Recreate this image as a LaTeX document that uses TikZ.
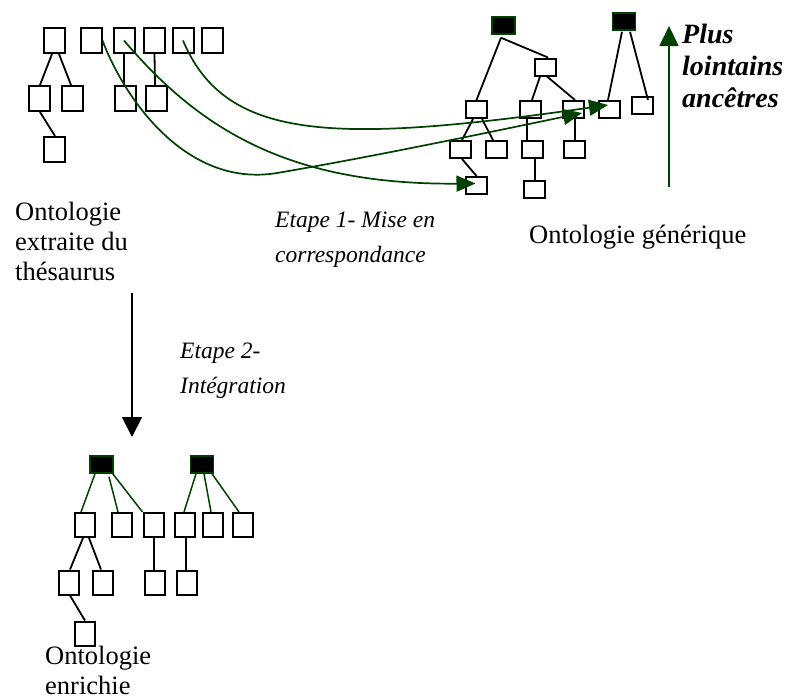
\documentclass[tikz,border=0pt]{standalone}
\usepackage{fontspec}
\setmainfont{Liberation Serif}
\usetikzlibrary{arrows.meta,calc}
\definecolor{dgreen}{RGB}{0,64,0}
\begin{document}
\begin{tikzpicture}[x=1pt,y=-1pt,
  tbox/.style={draw=black,line width=2pt,fill=white,inner sep=0pt,minimum width=21pt,minimum height=25pt},
  sbox/.style={tbox,minimum width=21pt,minimum height=17pt},
  bbox/.style={tbox,minimum width=20pt,minimum height=24pt},
  rootbox/.style={draw=dgreen,fill=black,line width=1.5pt,inner sep=0pt,minimum width=23pt,minimum height=17pt},
  edge/.style={line width=1.8pt,black},
  gedge/.style={line width=1.5pt,dgreen},
  garrow/.style={line width=1.7pt,dgreen,-{Triangle[length=19pt,width=16pt]}},
  lbl/.style={inner sep=0pt,anchor=base west,align=left,font=\fontsize{26.5}{30}\selectfont},
  anclbl/.style={inner sep=0pt,anchor=base west,align=left,font=\bfseries\itshape\fontsize{28}{32}\selectfont},
  etplbl/.style={inner sep=0pt,anchor=base west,align=left,font=\itshape\fontsize{23.5}{35}\selectfont}
]
\useasboundingbox (0,0) rectangle (791,699);

% ---------- top-left tree ----------
\node[tbox] (t1) at (54.5,40.5) {};
\node[tbox] (t2) at (91,40.5) {};
\node[tbox] (t3) at (124,40.5) {};
\node[tbox] (t4) at (154.5,40.5) {};
\node[tbox] (t5) at (183,40.5) {};
\node[tbox] (t6) at (212,40.5) {};
\node[tbox] (t7) at (39,98.5) {};
\node[tbox] (t8) at (72.5,98.5) {};
\node[tbox] (t9) at (125,98.5) {};
\node[tbox] (t10) at (156,98.5) {};
\node[tbox] (t11) at (54.5,149.5) {};
\draw[edge] ($(t1.south)+(-2.5,0)$) -- ($(t7.north)+(1,0)$);
\draw[edge] ($(t1.south)+(4.5,0)$) -- ($(t8.north)+(-1.5,0)$);
\draw[edge] ($(t7.south)+(1,0)$) -- ($(t11.north)+(0.5,0)$);
\draw[edge] (t3.south) -- ($(t9.north)+(-1,0)$);
\draw[edge] (t4.south) -- ($(t10.north)+(-1,0)$);

% ---------- top-right tree ----------
\node[rootbox] (r1) at (503.5,25.5) {};
\node[rootbox] (r2) at (624,21.5) {};
\node[sbox] (b) at (545,67) {};
\node[sbox] (a) at (476.5,109.5) {};
\node[sbox] (c) at (530.5,109.5) {};
\node[sbox] (d) at (573.5,109.5) {};
\node[sbox] (e) at (609.5,109.5) {};
\node[sbox] (f) at (642.5,105.5) {};
\node[sbox] (g) at (460,149.5) {};
\node[sbox] (h) at (496.5,149.5) {};
\node[sbox] (i) at (532.5,149.5) {};
\node[sbox] (j) at (574,149.5) {};
\node[sbox] (k) at (476.5,185.5) {};
\node[sbox] (l) at (534.5,189.5) {};
\draw[edge] ($(r1.south)+(-2.5,3)$) -- (a.north);
\draw[edge] ($(r1.south)+(-2.5,3)$) -- ($(b.north)+(3,0)$);
\draw[edge] ($(b.south)+(-5,0)$) -- ($(c.north)+(1.5,0)$);
\draw[edge] ($(b.south)+(2,0)$) -- ($(d.north)+(1.5,0)$);
\draw[edge] ($(r2.south)+(-2,1)$) -- ($(e.north)+(-1.5,0)$);
\draw[edge] ($(r2.south)+(6,1)$) -- ($(f.north)+(5.5,4)$);
\draw[edge] ($(a.south)+(-3.5,0)$) -- ($(g.north)+(2,0)$);
\draw[edge] ($(a.south)+(5.5,0)$) -- ($(h.north)+(-3.5,0)$);
\draw[edge] ($(c.south)+(-3.5,0)$) -- ($(i.north)+(-5.5,0)$);
\draw[edge] ($(d.south)+(1.5,0)$) -- ($(j.north)+(1,0)$);
\draw[edge] ($(g.south)+(2,0)$) -- (k.north);
\draw[edge] ($(i.south)+(2.5,0)$) -- ($(l.north)+(0.5,0)$);

% ---------- bottom tree ----------
\node[rootbox] (B1) at (101.5,464.5) {};
\node[rootbox] (B2) at (202,464.5) {};
\node[bbox] (n1) at (85,525) {};
\node[bbox] (n2) at (121.5,525) {};
\node[bbox] (n3) at (153.5,525) {};
\node[bbox] (n4) at (185,525) {};
\node[bbox] (n5) at (213,525) {};
\node[bbox] (n6) at (242.5,525) {};
\node[bbox] (m1) at (69,582.5) {};
\node[bbox] (m2) at (103,582.5) {};
\node[bbox] (m3) at (155,582.5) {};
\node[bbox] (m4) at (186.5,582.5) {};
\node[bbox] (p1) at (85,633.5) {};
\draw[gedge] ($(B1.south)+(-6.5,0)$) -- ($(n1.north)+(-4,0)$);
\draw[gedge] ($(B1.south)+(7.5,3)$) -- ($(n2.north)+(-3.5,0)$);
\draw[gedge] ($(B1.south east)+(-1,0)$) -- (n3.north west);
\draw[gedge] ($(B2.south)+(-6,0)$) -- ($(n4.north)+(-1,0)$);
\draw[gedge] ($(B2.south)+(2,0)$) -- ($(n5.north)+(-2,0)$);
\draw[gedge] ($(B2.south)+(10,0)$) -- ($(n6.north)+(-3.5,0)$);
\draw[edge] ($(n1.south)+(-2,0)$) -- ($(m1.north)+(1,0)$);
\draw[edge] ($(n1.south)+(4,0)$) -- ($(m2.north)+(-2,0)$);
\draw[edge] ($(n3.south)+(0.5,0)$) -- ($(m3.north)+(-1,0)$);
\draw[edge] ($(n4.south)+(1,0)$) -- ($(m4.north)+(-0.5,0)$);
\draw[edge] ($(m1.south)+(1,0)$) -- (p1.north);

% ---------- mapping curves ----------
\coordinate (bend) at (277,173);
\draw[garrow] (t2.east) .. controls (125,100) and (187,188) .. (bend)
   .. controls (377,156) and (500,130) .. ($(d.center)+(8.5,3.5)$);
\draw[garrow] (t3.center) .. controls (200,130) and (290,185) .. ($(k.center)+(-1,-2)$);
\draw[garrow] (t5.center) .. controls (225,140) and (330,145) .. ($(e.center)+(-1.5,-4.5)$);

% ---------- vertical arrows ----------
\coordinate (anclow) at (669,187);
\coordinate (anchigh) at (669,26);
\draw[line width=1.8pt,dgreen,-{Triangle[length=20pt,width=19pt]}] (anclow) -- (anchigh);
\coordinate (stepstart) at (132,293);
\coordinate (stepend) at (132,437);
\draw[line width=1.8pt,black,-{Triangle[length=20pt,width=20pt]}] (stepstart) -- (stepend);

% ---------- labels (anchor = baseline of last line) ----------
\node[lbl] (thes) at (15,280) {Ontologie\\extraite du\\thésaurus};
\node[lbl] (gen) at (529,243) {Ontologie générique};
\node[lbl] (enr) at (45,694) {Ontologie\\enrichie};
\node[anclbl] (anc) at (682,107) {Plus\\lointains\\ancêtres};
\node[etplbl] (e1) at (275,262) {Etape 1- Mise en\\correspondance};
\node[etplbl] (e2) at (180,393) {Etape 2-\\Intégration};
\end{tikzpicture}
\end{document}
